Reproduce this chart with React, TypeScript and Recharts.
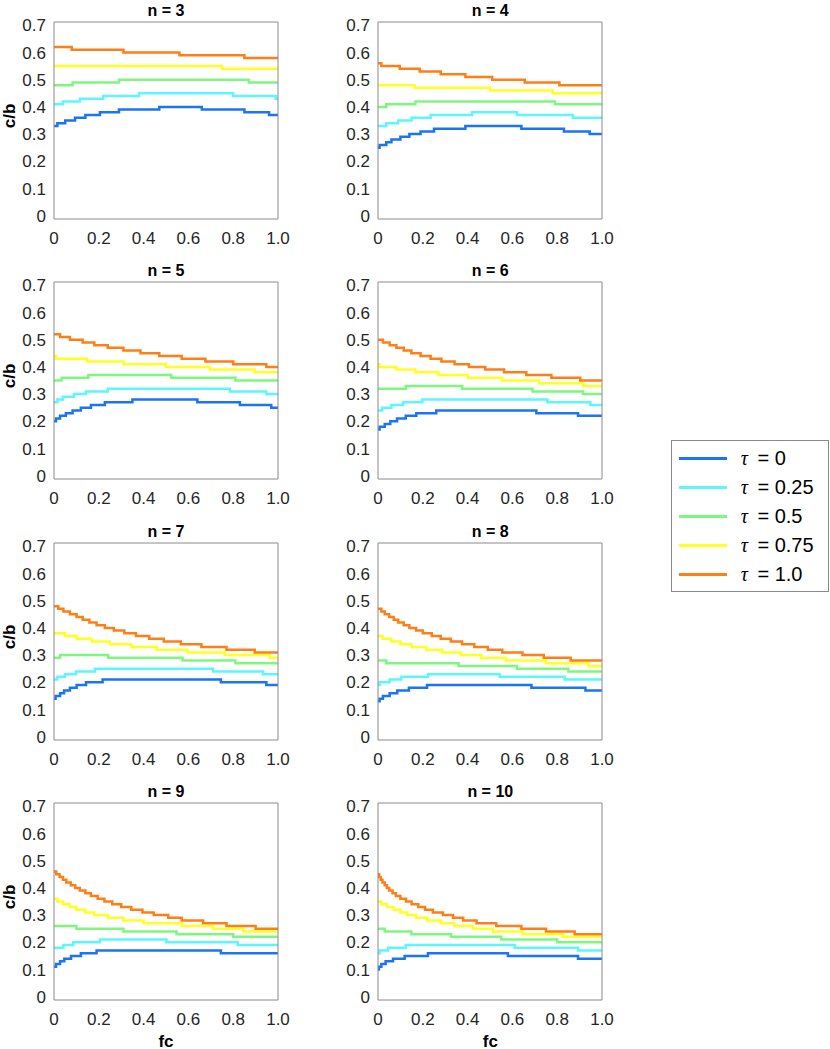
import { LineChart, Line, XAxis, YAxis } from "recharts";

// legend labels and colours, one per tau
const tauLabels = ["0", "0.25", "0.5", "0.75", "1.0"];
const tauColors = ["#1b74f2", "#5cf6ff", "#7ff77f", "#ffff22", "#ff7f17"];

const xTicks = [0, 0.2, 0.4, 0.6, 0.8, 1.0];
const yTicks = [0, 0.1, 0.2, 0.3, 0.4, 0.5, 0.6, 0.7];

// step curves: [fc where a step starts, c/b], one list per tau (0, 0.25, 0.5, 0.75, 1.0)
const steps3 = [
    [[0, 0.33], [0.015, 0.34], [0.05, 0.35], [0.094, 0.36], [0.14, 0.37], [0.205, 0.38], [0.29, 0.39], [0.47, 0.4], [0.66, 0.39], [0.85, 0.38], [0.96, 0.37]],
    [[0, 0.41], [0.04, 0.42], [0.116, 0.43], [0.22, 0.44], [0.38, 0.45], [0.8, 0.44], [0.99, 0.43]],
    [[0, 0.48], [0.083, 0.49], [0.29, 0.5], [0.87, 0.49]],
    [[0, 0.55], [0.75, 0.54]],
    [[0, 0.62], [0.079, 0.61], [0.31, 0.6], [0.56, 0.59], [0.85, 0.58]],
];
const steps4 = [
    [[0, 0.25], [0.007, 0.26], [0.037, 0.27], [0.06, 0.28], [0.1, 0.29], [0.14, 0.3], [0.19, 0.31], [0.25, 0.32], [0.39, 0.33], [0.64, 0.32], [0.83, 0.31], [0.945, 0.3]],
    [[0, 0.33], [0.037, 0.34], [0.09, 0.35], [0.15, 0.36], [0.235, 0.37], [0.42, 0.38], [0.62, 0.37], [0.87, 0.36]],
    [[0, 0.4], [0.037, 0.41], [0.167, 0.42], [0.79, 0.41]],
    [[0, 0.48], [0.164, 0.47], [0.5, 0.46], [0.78, 0.45]],
    [[0, 0.56], [0.015, 0.55], [0.097, 0.54], [0.186, 0.53], [0.28, 0.52], [0.39, 0.51], [0.51, 0.5], [0.655, 0.49], [0.81, 0.48]],
];
const steps5 = [
    [[0, 0.2], [0.009, 0.21], [0.027, 0.22], [0.053, 0.23], [0.083, 0.24], [0.12, 0.25], [0.165, 0.26], [0.227, 0.27], [0.35, 0.28], [0.64, 0.27], [0.83, 0.26], [0.97, 0.25]],
    [[0, 0.27], [0.015, 0.28], [0.04, 0.29], [0.089, 0.3], [0.143, 0.31], [0.24, 0.32], [0.785, 0.31], [0.948, 0.3]],
    [[0, 0.35], [0.034, 0.36], [0.153, 0.37], [0.524, 0.36], [0.81, 0.35]],
    [[0, 0.44], [0.008, 0.43], [0.149, 0.42], [0.31, 0.41], [0.5, 0.4], [0.695, 0.39], [0.896, 0.38]],
    [[0, 0.52], [0.027, 0.51], [0.071, 0.5], [0.128, 0.49], [0.18, 0.48], [0.24, 0.47], [0.31, 0.46], [0.386, 0.45], [0.47, 0.44], [0.57, 0.43], [0.676, 0.42], [0.8, 0.41], [0.948, 0.4]],
];
const steps6 = [
    [[0, 0.17], [0.007, 0.18], [0.03, 0.19], [0.055, 0.2], [0.085, 0.21], [0.124, 0.22], [0.171, 0.23], [0.26, 0.24], [0.707, 0.23], [0.893, 0.22]],
    [[0, 0.24], [0.019, 0.25], [0.06, 0.26], [0.112, 0.27], [0.198, 0.28], [0.756, 0.27], [0.948, 0.26]],
    [[0, 0.32], [0.124, 0.33], [0.376, 0.32], [0.69, 0.31], [0.915, 0.3]],
    [[0, 0.41], [0.007, 0.4], [0.082, 0.39], [0.167, 0.38], [0.27, 0.37], [0.4, 0.36], [0.554, 0.35], [0.72, 0.34], [0.915, 0.33]],
    [[0, 0.5], [0.022, 0.49], [0.052, 0.48], [0.082, 0.47], [0.115, 0.46], [0.149, 0.45], [0.19, 0.44], [0.235, 0.43], [0.283, 0.42], [0.342, 0.41], [0.406, 0.4], [0.479, 0.39], [0.5625, 0.38], [0.662, 0.37], [0.774, 0.36], [0.903, 0.35]],
];
const steps7 = [
    [[0, 0.14], [0.007, 0.15], [0.027, 0.16], [0.045, 0.17], [0.071, 0.18], [0.101, 0.19], [0.143, 0.2], [0.217, 0.21], [0.745, 0.2], [0.948, 0.19]],
    [[0, 0.21], [0.015, 0.22], [0.049, 0.23], [0.098, 0.24], [0.183, 0.25], [0.71, 0.24], [0.933, 0.23]],
    [[0, 0.29], [0.027, 0.3], [0.242, 0.29], [0.574, 0.28], [0.81, 0.27]],
    [[0, 0.38], [0.049, 0.37], [0.101, 0.36], [0.168, 0.35], [0.25, 0.34], [0.346, 0.33], [0.458, 0.32], [0.596, 0.31], [0.762, 0.3], [0.963, 0.29]],
    [[0, 0.48], [0.019, 0.47], [0.042, 0.46], [0.071, 0.45], [0.101, 0.44], [0.128, 0.43], [0.158, 0.42], [0.19, 0.41], [0.227, 0.4], [0.267, 0.39], [0.314, 0.38], [0.366, 0.37], [0.425, 0.36], [0.49, 0.35], [0.566, 0.34], [0.658, 0.33], [0.77, 0.32], [0.896, 0.31]],
];
const steps8 = [
    [[0, 0.13], [0.007, 0.14], [0.022, 0.15], [0.052, 0.16], [0.086, 0.17], [0.138, 0.18], [0.219, 0.19], [0.685, 0.18], [0.926, 0.17]],
    [[0, 0.19], [0.007, 0.2], [0.052, 0.21], [0.104, 0.22], [0.223, 0.23], [0.543, 0.22], [0.833, 0.21]],
    [[0, 0.28], [0.037, 0.27], [0.36, 0.26], [0.62, 0.25], [0.85, 0.24]],
    [[0, 0.37], [0.02, 0.36], [0.06, 0.35], [0.1, 0.34], [0.15, 0.33], [0.215, 0.32], [0.285, 0.31], [0.37, 0.3], [0.46, 0.29], [0.57, 0.28], [0.75, 0.27], [0.94, 0.26]],
    [[0, 0.47], [0.015, 0.46], [0.03, 0.45], [0.05, 0.44], [0.07, 0.43], [0.09, 0.42], [0.115, 0.41], [0.14, 0.4], [0.17, 0.39], [0.2, 0.38], [0.24, 0.37], [0.28, 0.36], [0.325, 0.35], [0.375, 0.34], [0.43, 0.33], [0.49, 0.32], [0.555, 0.31], [0.645, 0.3], [0.74, 0.29], [0.86, 0.28]],
];
const steps9 = [
    [[0, 0.11], [0.009, 0.12], [0.027, 0.13], [0.046, 0.14], [0.076, 0.15], [0.12, 0.16], [0.19, 0.17], [0.745, 0.16]],
    [[0, 0.18], [0.042, 0.19], [0.086, 0.2], [0.205, 0.21], [0.502, 0.2], [0.82, 0.19]],
    [[0, 0.26], [0.1, 0.25], [0.31, 0.24], [0.547, 0.23], [0.8, 0.22]],
    [[0, 0.36], [0.015, 0.35], [0.04, 0.34], [0.07, 0.33], [0.1, 0.32], [0.14, 0.31], [0.18, 0.3], [0.24, 0.29], [0.31, 0.28], [0.4, 0.27], [0.57, 0.26], [0.71, 0.25], [0.845, 0.24]],
    [[0, 0.46], [0.01, 0.45], [0.025, 0.44], [0.04, 0.43], [0.055, 0.42], [0.075, 0.41], [0.095, 0.4], [0.115, 0.39], [0.14, 0.38], [0.165, 0.37], [0.195, 0.36], [0.225, 0.35], [0.26, 0.34], [0.3, 0.33], [0.345, 0.32], [0.395, 0.31], [0.445, 0.3], [0.51, 0.29], [0.57, 0.28], [0.666, 0.27], [0.77, 0.26], [0.9, 0.25]],
];
const steps10 = [
    [[0, 0.1], [0.004, 0.11], [0.015, 0.12], [0.034, 0.13], [0.067, 0.14], [0.119, 0.15], [0.223, 0.16], [0.58, 0.15], [0.893, 0.14]],
    [[0, 0.16], [0.007, 0.17], [0.045, 0.18], [0.124, 0.19], [0.61, 0.18], [0.893, 0.17]],
    [[0, 0.25], [0.03, 0.24], [0.149, 0.23], [0.327, 0.22], [0.55, 0.21], [0.8, 0.2]],
    [[0, 0.35], [0.015, 0.34], [0.04, 0.33], [0.07, 0.32], [0.1, 0.31], [0.13, 0.3], [0.17, 0.29], [0.22, 0.28], [0.28, 0.27], [0.34, 0.26], [0.424, 0.25], [0.513, 0.24], [0.647, 0.23], [0.826, 0.22]],
    [[0, 0.45], [0.005, 0.44], [0.012, 0.43], [0.02, 0.42], [0.03, 0.41], [0.04, 0.4], [0.05, 0.39], [0.065, 0.38], [0.08, 0.37], [0.1, 0.36], [0.125, 0.35], [0.15, 0.34], [0.18, 0.33], [0.21, 0.32], [0.245, 0.31], [0.29, 0.3], [0.335, 0.29], [0.38, 0.28], [0.44, 0.27], [0.528, 0.26], [0.64, 0.25], [0.75, 0.24], [0.878, 0.23]],
];

const panelN = [3, 4, 5, 6, 7, 8, 9, 10];
const panelSteps = [steps3, steps4, steps5, steps6, steps7, steps8, steps9, steps10];

const FONT = "'Liberation Sans', Arial, Helvetica, sans-serif";
const BOX = "#8a8a8a";
const TEXT = "#262626";

// plot box geometry (page px)
const boxLefts = [54, 378.3];
const boxTops = [21.7, 281.7, 542.7, 802.7];
const BOX_W = 224;
const BOX_H = 197;
const Y_AXIS_W = 54;
const TOP_M = 20;

const fmt = (v: number) => (v === 0 ? "0" : v.toFixed(1));

function toPoints(steps: number[][]) {
    const pts = steps.map(([x, y]) => ({ x, y }));
    // last level runs on to fc = 1
    pts.push({ x: 1, y: steps[steps.length - 1][1] });
    return pts;
}

function Panel({ n, steps, col, row }: { n: number; steps: number[][][]; col: number; row: number }) {
    const left = boxLefts[col];
    const top = boxTops[row];
    return (
        <>
            <div
                style={{
                    position: "absolute",
                    left: left,
                    top: top - 21,
                    width: BOX_W,
                    textAlign: "center",
                    fontFamily: FONT,
                    fontWeight: "bold",
                    fontSize: 16,
                    lineHeight: "20px",
                    color: "#000",
                }}
            >
                n = {n}
            </div>
            <div style={{ position: "absolute", left: left - Y_AXIS_W, top: top - TOP_M }}>
                <LineChart
                    width={Y_AXIS_W + BOX_W + 12}
                    height={TOP_M + BOX_H + 40}
                    margin={{ top: TOP_M, right: 12, bottom: 6, left: 0 }}
                >
                    <XAxis
                        dataKey="x"
                        type="number"
                        domain={[0, 1]}
                        ticks={xTicks}
                        tickFormatter={fmt}
                        allowDataOverflow
                        axisLine={{ stroke: BOX }}
                        tickLine={false}
                        tickSize={0}
                        tickMargin={13}
                        height={34}
                        tick={{ fill: TEXT, fontSize: 17, fontFamily: FONT }}
                    />
                    <YAxis
                        type="number"
                        domain={[-0.012, 0.712]}
                        ticks={yTicks}
                        tickFormatter={fmt}
                        allowDataOverflow
                        axisLine={{ stroke: BOX }}
                        tickLine={false}
                        tickSize={0}
                        tickMargin={8}
                        width={Y_AXIS_W}
                        tick={{ fill: TEXT, fontSize: 17, fontFamily: FONT }}
                    />
                    {/* inward ticks and the rest of the box */}
                    <XAxis xAxisId="bin" type="number" domain={[0, 1]} ticks={xTicks} orientation="bottom" mirror axisLine={false} tick={false} tickSize={3} tickLine={{ stroke: BOX }} />
                    <XAxis xAxisId="top" type="number" domain={[0, 1]} ticks={xTicks} orientation="top" mirror axisLine={{ stroke: BOX }} tick={false} tickSize={3} tickLine={{ stroke: BOX }} />
                    <YAxis yAxisId="lin" type="number" domain={[-0.012, 0.712]} ticks={yTicks} allowDataOverflow orientation="left" mirror axisLine={false} tick={false} tickSize={3} tickLine={{ stroke: BOX }} />
                    <YAxis yAxisId="right" type="number" domain={[-0.012, 0.712]} ticks={yTicks} allowDataOverflow orientation="right" mirror axisLine={{ stroke: BOX }} tick={false} tickSize={3} tickLine={{ stroke: BOX }} />
                    {steps.map((s, i) => (
                        <Line
                            key={i}
                            data={toPoints(s)}
                            dataKey="y"
                            type="stepAfter"
                            stroke={tauColors[i]}
                            strokeWidth={2.5}
                            dot={false}
                            activeDot={false}
                            isAnimationActive={false}
                        />
                    ))}
                </LineChart>
            </div>
            {col === 0 && (
                <div
                    style={{
                        position: "absolute",
                        left: 10,
                        top: top + BOX_H / 2 - 4,
                        transform: "translate(-50%, -50%) rotate(-90deg)",
                        fontFamily: FONT,
                        fontWeight: "bold",
                        fontSize: 17,
                        color: "#000",
                        whiteSpace: "nowrap",
                    }}
                >
                    c/b
                </div>
            )}
            {row === 3 && (
                <div
                    style={{
                        position: "absolute",
                        left: left,
                        top: 1035,
                        width: BOX_W,
                        textAlign: "center",
                        fontFamily: FONT,
                        fontWeight: "bold",
                        fontSize: 17,
                        lineHeight: "13px",
                        height: 13,
                        color: "#000",
                    }}
                >
                    fc
                </div>
            )}
        </>
    );
}

function Legend() {
    return (
        <div
            style={{
                position: "absolute",
                left: 670.7,
                top: 440,
                width: 156,
                height: 150,
                border: `1px solid ${BOX}`,
                background: "#fff",
            }}
        >
            {tauLabels.map((t, i) => (
                <div key={t} style={{ position: "absolute", left: 0, top: 3 + i * 29, height: 29, width: 156 }}>
                    <div
                        style={{
                            position: "absolute",
                            left: 7,
                            top: 13,
                            width: 48,
                            height: 3,
                            background: tauColors[i],
                        }}
                    />
                    <div
                        style={{
                            position: "absolute",
                            left: 69,
                            top: 0,
                            fontFamily: FONT,
                            fontSize: 20,
                            lineHeight: "29px",
                            color: "#000",
                            whiteSpace: "nowrap",
                        }}
                    >
                        <span style={{ fontFamily: "'Liberation Serif', 'DejaVu Serif', serif", fontStyle: "italic" }}>τ</span>
                        {"\u2009 = "}
                        {t}
                    </div>
                </div>
            ))}
        </div>
    );
}

export default function App() {
    return (
        <div style={{ position: "absolute", left: 0, top: 0, width: 830, height: 1049, background: "#fff" }}>
            {panelN.map((n, k) => (
                <Panel key={n} n={n} steps={panelSteps[k]} col={k % 2} row={Math.floor(k / 2)} />
            ))}
            <Legend />
        </div>
    );
}
